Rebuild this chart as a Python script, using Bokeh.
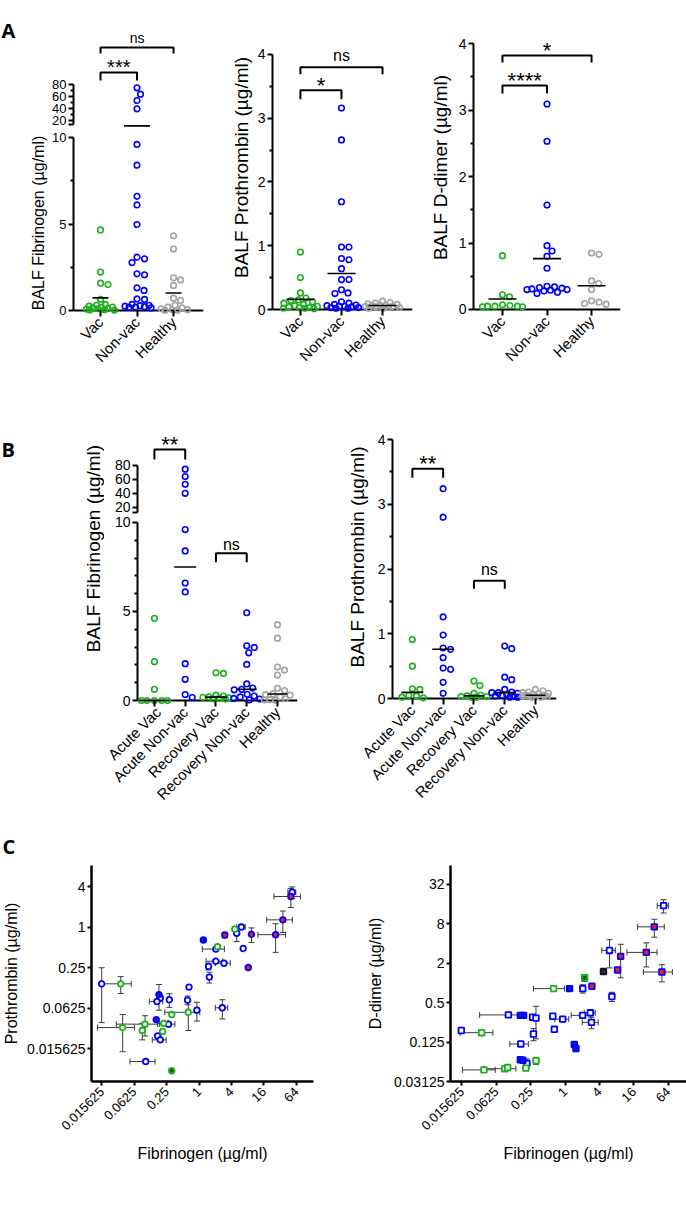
import math
import numpy as np
from bokeh.plotting import figure
from bokeh.layouts import row, column
from bokeh.models import Range1d, FixedTicker, CustomJSTickFormatter, Span
from bokeh.core.properties import value
from bokeh.embed import file_html
from bokeh.resources import INLINE

FONT = "Liberation Sans"
LETTER_FONT = "Open Sans"
GREEN = "#1cb01c"
BLUE = "#0000ff"
GRAY = "#a2a2a2"
RED = "#ff1616"
DARK = "#3a3a3a"

# ---------------- data ----------------
groups_a = ["Vac", "Non-vac", "Healthy"]
groups_b = ["Acute Vac", "Acute Non-vac", "Recovery Vac", "Recovery Non-vac", "Healthy"]
colors_a = [GREEN, BLUE, GRAY]
colors_b = [GREEN, BLUE, GREEN, BLUE, GRAY]

# Panel A: BALF Fibrinogen (ug/ml)
fib_vac_a = [4.66, 2.22, 1.58, 1.50, 0.65, 0.35, 0.30, 0.25, 0.20, 0.18, 0.15, 0.12, 0.10, 0.08, 0.05, 0.03, 0.02]
fib_nonvac_a = [74.4, 63.9, 53.3, 39.4, 9.6, 8.4, 6.6, 6.1, 4.97, 3.08, 2.99, 2.77, 2.12, 2.06, 1.31, 1.16,
                0.67, 0.64, 0.35, 0.30, 0.28, 0.25, 0.22, 0.20, 0.18, 0.15]
fib_healthy_a = [4.32, 3.55, 1.89, 1.77, 1.45, 0.71, 0.58, 0.30, 0.20, 0.15, 0.10, 0.05, 0.03, 0.02, 0.01]

# Panel A: BALF Prothrombin (ug/ml)
pro_vac_a = [0.90, 0.50, 0.26, 0.18, 0.15, 0.14, 0.12, 0.10, 0.08, 0.06, 0.05, 0.04, 0.03, 0.03, 0.02, 0.02, 0.01]
pro_nonvac_a = [3.16, 2.66, 1.69, 0.98, 0.98, 0.80, 0.78, 0.64, 0.47, 0.47, 0.31, 0.26, 0.25, 0.12, 0.10,
                0.08, 0.07, 0.06, 0.05, 0.05, 0.04, 0.03, 0.03, 0.02, 0.02]
pro_healthy_a = [0.13, 0.11, 0.10, 0.09, 0.08, 0.07, 0.06, 0.06, 0.05, 0.05, 0.04, 0.03, 0.03, 0.02, 0.02]

# Panel A: BALF D-dimer (ug/ml)
dd_vac_a = [0.81, 0.22, 0.19, 0.07, 0.06, 0.05, 0.05, 0.05, 0.04, 0.04]
dd_nonvac_a = [3.09, 2.53, 1.57, 0.96, 0.88, 0.80, 0.62, 0.35, 0.34, 0.33, 0.32, 0.31, 0.30, 0.30, 0.29,
               0.28, 0.26, 0.24]
dd_healthy_a = [0.85, 0.83, 0.43, 0.39, 0.30, 0.13, 0.11, 0.09, 0.08]

# Panel B: BALF Fibrinogen (ug/ml)
fib_acute_vac = [4.62, 2.18, 0.63, 0.0, 0.0, 0.0, 0.0, 0.0]
fib_acute_nonvac = [74.7, 64.2, 53.1, 40.2, 9.6, 8.4, 6.6, 6.1, 2.07, 1.19, 0.34, 0.17]
fib_recov_vac = [1.56, 1.52, 0.30, 0.25, 0.20, 0.18, 0.15, 0.12, 0.10, 0.08]
fib_recov_nonvac = [4.93, 3.07, 2.98, 2.68, 2.03, 0.93, 0.70, 0.63, 0.60, 0.35, 0.25, 0.20, 0.12, 0.08, 0.03]
fib_healthy_b = [4.26, 3.50, 1.88, 1.71, 1.43, 0.69, 0.56, 0.37, 0.33, 0.30, 0.20, 0.10, 0.05, 0.03, 0.02]

# Panel B: BALF Prothrombin (ug/ml)
pro_acute_vac = [0.91, 0.50, 0.15, 0.14, 0.05, 0.04, 0.02, 0.01]
pro_acute_nonvac = [3.24, 2.80, 1.26, 0.98, 0.78, 0.76, 0.63, 0.47, 0.45, 0.25, 0.08]
pro_recov_vac = [0.27, 0.20, 0.08, 0.05, 0.04, 0.03, 0.03, 0.02, 0.02]
pro_recov_nonvac = [0.81, 0.77, 0.33, 0.29, 0.14, 0.10, 0.09, 0.09, 0.08, 0.06, 0.05, 0.04, 0.03, 0.02, 0.02]
pro_healthy_b = [0.14, 0.12, 0.10, 0.09, 0.08, 0.07, 0.06, 0.05, 0.05, 0.04, 0.04, 0.03, 0.03, 0.02, 0.02]

# Panel C, left: Prothrombin vs Fibrinogen (mean, SD), marker kind per subject
c1_fib = [53.6, 50.6, 36.0, 26.4, 9.4, 8.2, 6.6, 6.1, 5.0, 4.6, 3.0, 2.2, 2.05, 1.2, 2.05, 2.9, 1.5, 1.55,
          0.65, 0.0155, 0.035, 0.18, 0.19, 0.165, 0.28, 0.61, 0.63, 0.91, 2.7, 0.31, 0.16, 0.099, 0.22,
          0.27, 0.038, 0.088, 0.21, 0.17, 0.19, 0.102, 0.31]
c1_pro = [3.3, 2.85, 1.28, 0.77, 0.78, 0.25, 0.48, 1.0, 0.81, 0.93, 0.76, 0.51, 0.47, 0.64, 0.31, 0.29,
          0.26, 0.18, 0.128, 0.143, 0.143, 0.099, 0.088, 0.078, 0.083, 0.082, 0.054, 0.058, 0.063, 0.050,
          0.042, 0.036, 0.037, 0.036, 0.032, 0.029, 0.028, 0.024, 0.021, 0.010, 0.0073]
c1_fib_sd = [9, 26, 18, 14, 0, 0, 0, 1.1, 0.3, 0, 0, 0, 0.9, 0, 0.7, 0.9, 0, 0, 0, 0, 0.02, 0, 0, 0.046,
             0, 0, 0.4, 0.08, 0.7, 0, 0, 0.07, 0.05, 0.085, 0.025, 0, 0, 0, 0.055, 0.05, 0]
c1_pro_sd = [0.65, 0.9, 0.45, 0.35, 0.19, 0, 0, 0, 0.2, 0, 0.07, 0, 0, 0, 0, 0, 0.03, 0.033, 0, 0.105,
             0.04, 0.041, 0, 0, 0.019, 0.012, 0.025, 0.018, 0.02, 0, 0, 0.012, 0, 0, 0.018, 0.008, 0, 0,
             0, 0, 0]
c1_kind = ["B", "R", "R", "R", "R", "R", "B", "B", "B", "G", "R", "G", "B", "F", "B", "B", "B", "B", "B",
           "B", "G", "F", "B", "B", "B", "B", "G", "B", "B", "G", "F", "G", "G", "B", "G", "G", "G", "B",
           "B", "B", "GF"]

# Panel C, right: D-dimer vs Fibrinogen (mean, SD)
c2_fib = [53.0, 36.5, 26.4, 49.5, 9.4, 8.3, 6.0, 4.7, 2.95, 2.04, 1.2, 0.63, 2.2, 6.6, 0.102, 0.188, 0.165,
          0.27, 0.31, 0.61, 0.91, 2.03, 2.77, 2.9, 0.0153, 0.0346, 0.28, 0.65, 0.168, 1.45, 1.55, 0.165,
          0.183, 0.215, 0.31, 0.206, 0.038, 0.088, 0.099]
c2_dd = [15.2, 7.2, 2.93, 1.47, 2.55, 1.58, 3.14, 1.5, 0.89, 0.82, 0.82, 0.82, 1.2, 0.62, 0.325, 0.32, 0.32,
         0.30, 0.29, 0.31, 0.28, 0.32, 0.35, 0.25, 0.188, 0.174, 0.166, 0.196, 0.117, 0.115, 0.10, 0.067,
         0.066, 0.059, 0.065, 0.05, 0.047, 0.049, 0.051]
c2_fib_sd = [12, 18, 14.3, 26, 0, 0, 1.6, 0, 0, 0, 0, 0.35, 0, 0, 0.07, 0, 0, 0, 0.03, 0.04, 0.25, 0.75,
             0.6, 0.9, 0, 0.02, 0, 0, 0.06, 0, 0, 0, 0, 0, 0, 0, 0.022, 0.05, 0]
c2_dd_sd = [3.5, 2.2, 1.17, 0.43, 1.35, 0, 1.44, 0, 0, 0.12, 0, 0, 0.15, 0.1, 0, 0, 0, 0, 0.15, 0, 0, 0,
            0, 0.05, 0, 0, 0.035, 0, 0, 0, 0, 0, 0, 0.01, 0.008, 0, 0, 0, 0]
c2_kind = ["B", "R", "R", "R", "R", "R", "B", "K", "R", "B", "F", "G", "GF", "B", "B", "F", "F", "B", "B",
           "B", "B", "B", "B", "B", "B", "G", "B", "B", "B", "F", "F", "F", "F", "B", "G", "G", "G", "G",
           "G"]

KIND_STYLE = {
    "B": (BLUE, "white"),
    "G": (GREEN, "white"),
    "R": (BLUE, RED),
    "F": (BLUE, "#1414c8"),
    "GF": (GREEN, "#25552a"),
    "K": ("#111111", "#26265a"),
}


# ---------------- helpers ----------------
def make_fig(w, h, left, right, top, bottom, xr, yr, **kw):
    p = figure(width=w, height=h, x_range=xr, y_range=yr, output_backend="svg",
               toolbar_location=None, min_border_left=left, min_border_right=right,
               min_border_top=top, min_border_bottom=bottom, **kw)
    p.outline_line_color = None
    p.grid.visible = False
    p.background_fill_color = "white"
    p.border_fill_color = "white"
    return p


def text_strip(w, h, items):
    """A bare canvas (pixel coordinates, origin bottom-left) holding free-standing texts."""
    p = make_fig(w, h, 0, 0, 0, 0, Range1d(0, w), Range1d(0, h),
                 x_axis_location=None, y_axis_location=None)
    for (x, y, txt, font, size, style, angle, align) in items:
        p.text(x=[x], y=[y], text=[txt], text_font=value(font), text_font_size=f"{size}px",
               text_font_style=style, angle=angle, text_align=align, text_baseline="middle",
               text_color="black")
    return p


def style_y(p, ticks, minor, bounds, tick_px, title=None, title_px=18, standoff=5, line_w=2):
    ax = p.yaxis[0]
    ax.ticker = FixedTicker(ticks=ticks, minor_ticks=minor)
    if bounds is not None:
        ax.bounds = bounds
    ax.axis_line_width = line_w
    ax.major_tick_line_width = line_w
    ax.minor_tick_line_width = line_w
    ax.major_tick_in = 0
    ax.major_tick_out = 5
    ax.minor_tick_in = 0
    ax.minor_tick_out = 3
    ax.major_label_text_font = FONT
    ax.major_label_text_font_size = f"{tick_px}px"
    ax.major_label_text_color = "black"
    ax.major_label_standoff = 2
    if title:
        ax.axis_label = title
        ax.axis_label_text_font = FONT
        ax.axis_label_text_font_style = "normal"
        ax.axis_label_text_font_size = f"{title_px}px"
        ax.axis_label_text_color = "black"
        ax.axis_label_standoff = standoff


def style_cat_x(p, names, font_px, delta_px):
    ax = p.xaxis[0]
    ax.ticker = FixedTicker(ticks=list(range(len(names))))
    ax.formatter = CustomJSTickFormatter(args=dict(names=names), code="""
        const i = Math.round(tick);
        return (i >= 0 && i < names.length) ? names[i] : "";
    """)
    ax.axis_line_color = None
    ax.major_tick_in = delta_px
    ax.major_tick_out = 1
    ax.major_tick_line_width = 2
    ax.minor_tick_line_color = None
    ax.major_label_orientation = math.pi / 4
    ax.major_label_text_font = FONT
    ax.major_label_text_font_size = f"{font_px}px"
    ax.major_label_text_color = "black"
    ax.major_label_standoff = 3
    p.add_layout(Span(location=0, dimension="width", line_color="black", line_width=2, level="underlay"))


def swarm(vals, to_px, diam=7.2, max_half=16.0):
    """Beeswarm offsets (in px) so that markers of a column do not overlap."""
    vals = np.asarray(vals, float)
    ys = np.array([to_px(v) for v in vals])
    cands = [0.0]
    for s in np.arange(0.5, max_half + 1e-9, 0.5):
        cands += [s, -s]
    px_x, px_y = [], []
    off = np.zeros(len(vals))
    for i in np.argsort(-vals, kind="stable"):
        best_c, best_d = 0.0, -1.0
        for c in cands:
            if px_x:
                d = float(np.min(np.hypot(np.array(px_x) - c, np.array(px_y) - ys[i])))
            else:
                d = np.inf
            if d >= diam:
                best_c = c
                break
            if d > best_d:
                best_d, best_c = d, c
        off[i] = best_c
        px_x.append(best_c)
        px_y.append(ys[i])
    return off


def draw_dots(bottom, top, split, groups, colors, ppc, to_px, stat, half_widths, max_half):
    for i, (vals, col, hw) in enumerate(zip(groups, colors, half_widths)):
        vals = np.asarray(vals, float)
        x = i + swarm(vals, to_px, max_half=max_half) / ppc
        low = vals <= split
        bottom.scatter(x[low], vals[low], marker="circle", size=5.6, line_color=col,
                       fill_color=None, line_width=1.6)
        if top is not None and (~low).any():
            top.scatter(x[~low], vals[~low], marker="circle", size=5.6, line_color=col,
                        fill_color=None, line_width=1.6)
        m = float(stat(vals))
        target = top if (top is not None and m > split) else bottom
        target.segment(x0=[i - hw / ppc], y0=[m], x1=[i + hw / ppc], y1=[m],
                       line_color="black", line_width=1.6)


def bracket(p, i0, i1, y, leg_px, ppu, label, font_px, gap_px):
    leg = leg_px / ppu
    p.multi_line(xs=[[i0, i0, i1, i1]], ys=[[y - leg, y, y, y - leg]], line_color="black", line_width=2)
    p.text(x=[(i0 + i1) / 2], y=[y + gap_px / ppu], text=[label], text_font=value(FONT),
           text_font_size=f"{font_px}px", text_align="center", text_baseline="alphabetic",
           text_color="black")


# ---------------- panel A ----------------
ROW_A = 380
a_strip = text_strip(20, ROW_A, [
    (1, ROW_A - 13, "A", LETTER_FONT, 20, "bold", 0, "left"),
])

A1_LO, A1_UP = 17.3, 0.6
a1_top = make_fig(200, 130, 53, 17, 0, 0, Range1d(-0.74, 2.82), Range1d(3.33, 220.0),
                  x_axis_location=None)
a1_bot = make_fig(200, ROW_A - 130, 53, 17, 0, ROW_A - 315, Range1d(-0.74, 2.82), Range1d(-0.289, 10.405))
style_y(a1_top, [13, 20, 40, 60, 80], [30, 50, 70], (13, 80), 13)
a1_top.yaxis[0].major_label_overrides = {13: ""}
style_y(a1_bot, [0, 5, 10], [2.5, 7.5], (0, 10), 13, "BALF Fibrinogen (µg/ml)", 16, 2)
style_cat_x(a1_bot, groups_a, 15, 5)
draw_dots(a1_bot, a1_top, 10.4, [fib_vac_a, fib_nonvac_a, fib_healthy_a], colors_a, 36.5,
          lambda v: v * A1_LO if v <= 10.4 else 190 + (v - 20) * A1_UP, np.mean, [8, 13, 8], 14)
bracket(a1_top, 0, 2, 141.7, 6, A1_UP, "ns", 14, 9)
bracket(a1_top, 0, 1, 100.0, 8, A1_UP, "***", 20, 5)

a2 = make_fig(205, ROW_A, 52, 13, 20, ROW_A - 314, Range1d(-0.68, 2.73), Range1d(-0.0784, 4.533))
style_y(a2, [0, 1, 2, 3, 4], [0.5, 1.5, 2.5, 3.5], (0, 4), 14, "BALF Prothrombin (µg/ml)", 19, 3)
style_cat_x(a2, groups_a, 15, 5)
draw_dots(a2, None, np.inf, [pro_vac_a, pro_nonvac_a, pro_healthy_a], colors_a, 41,
          lambda v: v * 63.75, np.mean, [14, 14, 14], 17)
bracket(a2, 0, 2, 3.8, 7, 63.75, "ns", 16, 12)
bracket(a2, 0, 1, 3.44, 9, 63.75, "*", 22, 5)

a3 = make_fig(261, ROW_A, 48, 66, 20, ROW_A - 314, Range1d(-0.65, 2.65), Range1d(-0.0752, 4.346))
style_y(a3, [0, 1, 2, 3, 4], [0.5, 1.5, 2.5, 3.5], (0, 4), 14, "BALF D-dimer (µg/ml)", 19, 5)
style_cat_x(a3, groups_a, 15, 5)
draw_dots(a3, None, np.inf, [dd_vac_a, dd_nonvac_a, dd_healthy_a], colors_a, 44.5,
          lambda v: v * 66.5, np.mean, [14, 14, 14], 20)
bracket(a3, 0, 2, 3.82, 7, 66.5, "*", 22, 5)
bracket(a3, 0, 1, 3.37, 8, 66.5, "****", 22, 5)

# ---------------- panel B ----------------
B_TOP, B_BOT = ROW_A, 811
ROW_B = B_BOT - B_TOP
b_strip = text_strip(104, ROW_B, [
    (1, B_BOT - 438, "B", LETTER_FONT, 20, "bold", 0, "left"),
    (93, B_BOT - 583, "BALF Fibrinogen (µg/ml)", FONT, 19, "normal", math.pi / 2, "center"),
])

B1_LO, B1_UP = 17.9, 0.7
b1_top = make_fig(239, 515 - B_TOP, 33, 46, 0, 0, Range1d(-0.55, 4.65),
                  Range1d(8.57, 80 + (465 - B_TOP) / B1_UP), x_axis_location=None)
b1_bot = make_fig(239, B_BOT - 515, 33, 46, 0, B_BOT - 706, Range1d(-0.55, 4.65), Range1d(-0.279, 10.39))
style_y(b1_top, [12.9, 20, 40, 60, 80], [], (12.9, 80), 14)
b1_top.yaxis[0].major_label_overrides = {12.9: ""}
style_y(b1_bot, [0, 5, 10], [1, 2, 3, 4, 6, 7, 8, 9], (0, 10), 14)
style_cat_x(b1_bot, groups_b, 15, 5)
draw_dots(b1_bot, b1_top, 10.4,
          [fib_acute_vac, fib_acute_nonvac, fib_recov_vac, fib_recov_nonvac, fib_healthy_b],
          colors_b, 30.75, lambda v: v * B1_LO if v <= 10.4 else 200 + (v - 20) * B1_UP,
          np.median, [11, 11, 11, 10, 10], 13)
bracket(b1_top, 0, 1, 102.9, 10, B1_UP, "**", 22, 5)
bracket(b1_bot, 2, 3, 8.27, 9, B1_LO, "ns", 16, 9)

b2 = make_fig(343, ROW_B, 48, 130, 410 - B_TOP, B_BOT - 703, Range1d(-0.645, 4.68), Range1d(-0.0772, 4.448))
style_y(b2, [0, 1, 2, 3, 4], [0.5, 1.5, 2.5, 3.5], (0, 4), 14, "BALF Prothrombin (µg/ml)", 19, 7)
style_cat_x(b2, groups_b, 15, 5)
draw_dots(b2, None, np.inf,
          [pro_acute_vac, pro_acute_nonvac, pro_recov_vac, pro_recov_nonvac, pro_healthy_b],
          colors_b, 31, lambda v: v * 64.75, np.median, [11, 11, 10, 10, 10], 13)
bracket(b2, 0, 1, 3.55, 9, 64.75, "**", 22, 5)
bracket(b2, 2, 3, 1.82, 8, 64.75, "ns", 16, 11)


# ---------------- panel C ----------------
def log_axes(p, xticks, yticks, xtitle, ytitle, y_standoff):
    fmt = "return String(tick);"
    for ax, ticks in ((p.xaxis[0], xticks), (p.yaxis[0], yticks)):
        ax.ticker = FixedTicker(ticks=ticks)
        ax.formatter = CustomJSTickFormatter(code=fmt)
        ax.axis_line_width = 2.5
        ax.major_tick_line_width = 2
        ax.major_tick_in = 0
        ax.major_tick_out = 4
        ax.minor_tick_line_color = None
        ax.major_label_text_font = FONT
        ax.major_label_text_color = "black"
        ax.major_label_standoff = 2
        ax.axis_label_text_font = FONT
        ax.axis_label_text_font_style = "normal"
        ax.axis_label_text_font_size = "16px"
        ax.axis_label_text_color = "black"
    p.xaxis[0].major_label_text_font_size = "13px"
    p.yaxis[0].major_label_text_font_size = "14px"
    p.xaxis[0].major_label_orientation = math.pi / 4
    p.xaxis[0].major_label_standoff = 4
    p.xaxis[0].axis_label = xtitle
    p.xaxis[0].axis_label_standoff = 8
    p.yaxis[0].axis_label = ytitle
    p.yaxis[0].axis_label_standoff = y_standoff


def draw_scatter(p, fx, fy, sx, sy, kinds, marker, size):
    fx, fy, sx, sy = (np.asarray(a, float) for a in (fx, fy, sx, sy))
    hx = sx > 0
    p.segment(x0=fx[hx] - sx[hx], y0=fy[hx], x1=fx[hx] + sx[hx], y1=fy[hx], line_color=DARK, line_width=1)
    p.scatter(np.concatenate([fx[hx] - sx[hx], fx[hx] + sx[hx]]), np.concatenate([fy[hx], fy[hx]]),
              marker="dash", angle=math.pi / 2, size=6, line_color=DARK, line_width=1)
    hy = sy > 0
    p.segment(x0=fx[hy], y0=fy[hy] - sy[hy], x1=fx[hy], y1=fy[hy] + sy[hy], line_color=DARK, line_width=1)
    p.scatter(np.concatenate([fx[hy], fx[hy]]), np.concatenate([fy[hy] - sy[hy], fy[hy] + sy[hy]]),
              marker="dash", size=6, line_color=DARK, line_width=1)
    kinds = np.asarray(kinds)
    for k, (lc, fc) in KIND_STYLE.items():
        sel = kinds == k
        if sel.any():
            p.scatter(fx[sel], fy[sel], marker=marker, size=size, line_color=lc, fill_color=fc,
                      line_width=1.8)


C_TOP = 860
c_strip = text_strip(686, C_TOP - B_BOT, [
    (2, C_TOP - 846, "C", LETTER_FONT, 20, "bold", 0, "left"),
])

fib_ticks = [2.0 ** k for k in range(-6, 7, 2)]
ROW_C = 1209 - C_TOP

c1 = make_fig(343, ROW_C, 85, 30, 865 - C_TOP, 128, Range1d(2 ** -6.64, 2 ** 7.06),
              Range1d(2 ** -7.63, 2 ** 3.04), x_axis_type="log", y_axis_type="log")
log_axes(c1, fib_ticks, [2.0 ** k for k in range(-6, 3, 2)], "Fibrinogen (µg/ml)", "Prothrombin (µg/ml)", 4)
draw_scatter(c1, c1_fib, c1_pro, c1_fib_sd, c1_pro_sd, c1_kind, "circle", 5.6)

c2 = make_fig(343, ROW_C, 107, 0, 0, 128, Range1d(2 ** -6.66, 2 ** 7.06),
              Range1d(2 ** -5, 2 ** 5.96), x_axis_type="log", y_axis_type="log")
log_axes(c2, fib_ticks, [2.0 ** k for k in range(-5, 6, 2)], "Fibrinogen (µg/ml)", "D-dimer (µg/ml)", 7)
draw_scatter(c2, c2_fib, c2_dd, c2_fib_sd, c2_dd_sd, c2_kind, "square", 5.6)

# ---------------- layout ----------------
layout = column(
    row(a_strip, column(a1_top, a1_bot), a2, a3),
    row(b_strip, column(b1_top, b1_bot), b2),
    c_strip,
    row(c1, c2),
)

open("out.html", "w").write(file_html(layout, INLINE, title="BALF coagulation factors"))
